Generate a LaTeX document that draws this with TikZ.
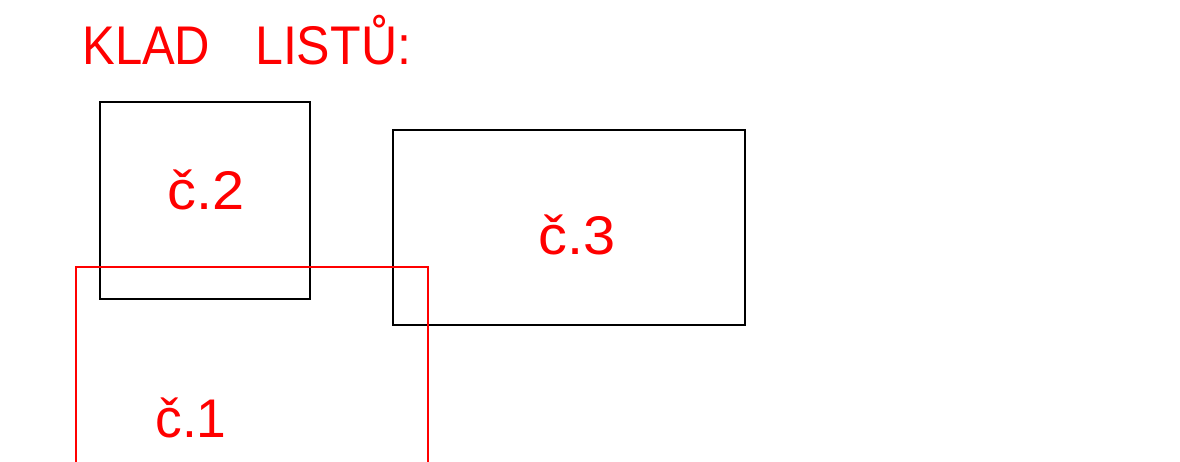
\documentclass[tikz,border=0pt]{standalone}
\usepackage{fontspec}
\setmainfont{Liberation Sans}
\definecolor{cadred}{RGB}{255,0,0}
\tikzset{
  sheet/.style={draw=black, line width=0.6pt},
  sheetred/.style={draw=cadred, line width=0.6pt},
  sheetlabel/.style={text=cadred, inner sep=0pt, anchor=base west, font=\fontsize{31}{31}\selectfont},
}
\begin{document}
\begin{tikzpicture}[x=0.02cm,y=-0.02cm]
\useasboundingbox (0,0) rectangle (1180,462);
\clip (0,0) rectangle (1180,462);

% title
\node[sheetlabel] (title) at (82,65) {\scalebox{0.9}[1]{KLAD}\hspace{25.5pt}\scalebox{0.92}[1]{LISTŮ:}};

% sheets
\draw[sheet] (100,102) rectangle (310,299);
\draw[sheet] (393,130) rectangle (745,325);
\draw[sheetred] (76,267) rectangle (428,480);

\node[sheetlabel] (c2) at (167,210) {\scalebox{1.06}[1]{č.2}};
\node[sheetlabel] (c3) at (538,255) {\scalebox{1.06}[1]{č.3}};
\node[sheetlabel] (c1) at (155,438) {\scalebox{0.98}[1]{č.1}};
\end{tikzpicture}
\end{document}
